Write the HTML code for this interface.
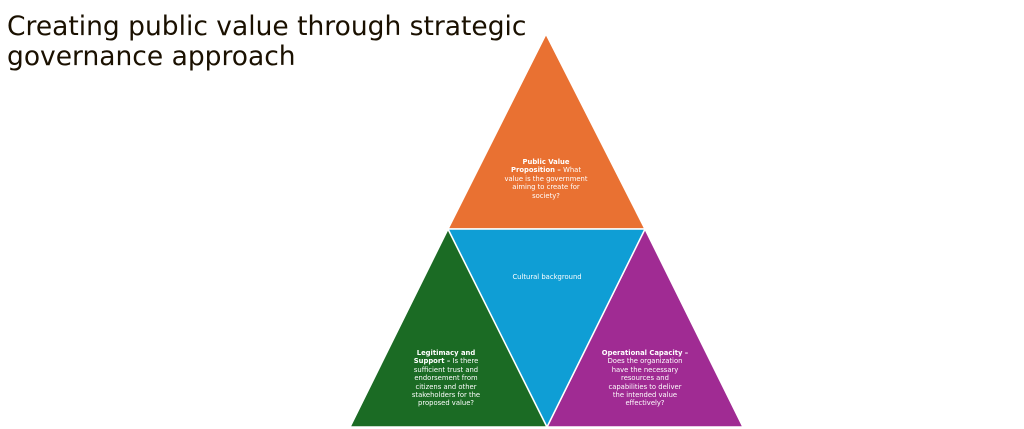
<!DOCTYPE html>
<html><head><meta charset="utf-8"><style>
html,body{margin:0;padding:0;background:#fff;width:1024px;height:429px;overflow:hidden;font-family:"DejaVu Sans",sans-serif;}
h1{position:absolute;left:7px;top:12px;margin:0;font-weight:normal;font-size:26.5px;line-height:30px;color:#1a1000;white-space:nowrap;}
.t{position:absolute;color:#fff;font-size:6.8px;line-height:8.4px;text-align:center;}
</style></head><body>
<h1>Creating public value through strategic<br>governance approach</h1>
<svg width="1024" height="429" style="position:absolute;left:0;top:0">
<g stroke="#fff" stroke-width="1.5">
<polygon points="546,34 645,229 448,229" fill="#E97132"/>
<polygon points="448,229 547,427 350,427" fill="#1B6B24"/>
<polygon points="645,229 743,427 547,427" fill="#A02B93"/>
<polygon points="448,229 645,229 547,427" fill="#0F9ED5"/>
</g>
</svg>
<div class="t" style="left:496px;top:158px;width:100px;"><b>Public Value<br>Proposition – </b>What<br>value is the government<br>aiming to create for<br>society?</div>
<div class="t" style="left:492px;top:273px;width:110px;">Cultural background</div>
<div class="t" style="left:396px;top:349px;width:100px;"><b>Legitimacy and<br>Support – </b>Is there<br>sufficient trust and<br>endorsement from<br>citizens and other<br>stakeholders for the<br>proposed value?</div>
<div class="t" style="left:585px;top:349px;width:120px;"><b>Operational Capacity –</b><br>Does the organization<br>have the necessary<br>resources and<br>capabilities to deliver<br>the intended value<br>effectively?</div>
</body></html>
